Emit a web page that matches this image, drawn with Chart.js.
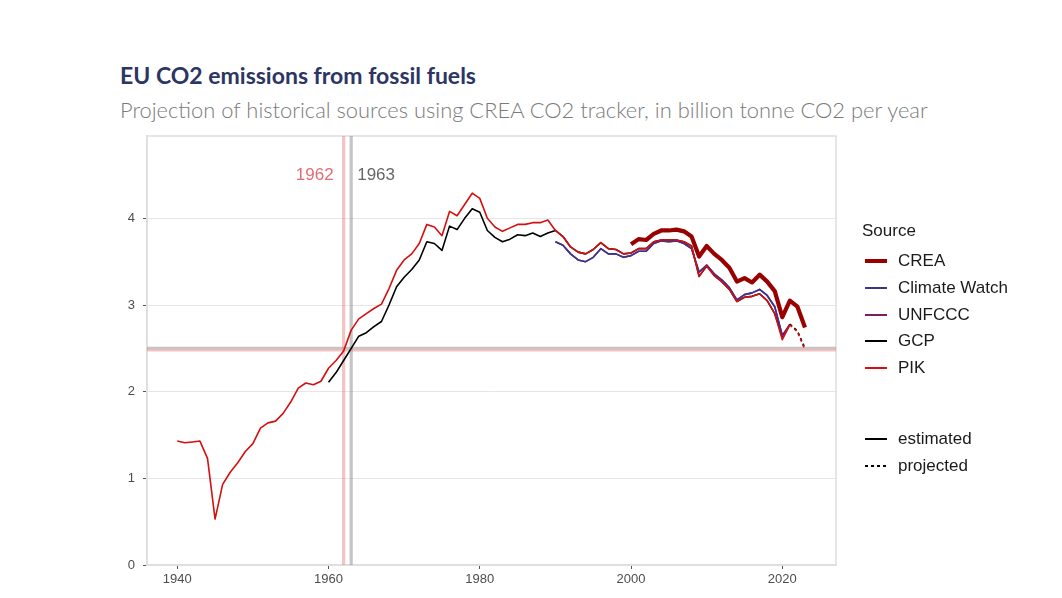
<!DOCTYPE html>
<html><head><meta charset="utf-8">
<script src="https://cdn.jsdelivr.net/npm/chart.js@4.4.0/dist/chart.umd.min.js"></script>
<style>
html,body{margin:0;padding:0;background:#fff;width:1062px;height:598px;overflow:hidden;}
#chartbox{position:absolute;left:0;top:0;width:1062px;height:598px;}
#title{position:absolute;left:120px;top:61px;font-family:Lato,"Open Sans",sans-serif;font-weight:700;font-size:23px;color:#2c3563;white-space:nowrap;}
#subtitle{position:absolute;left:120px;top:96px;font-family:Lato,"Open Sans",sans-serif;font-weight:300;font-size:21.9px;color:#7a7a7a;white-space:nowrap;}
.lg{position:absolute;left:862px;font-family:"Liberation Sans",Arial,sans-serif;font-size:17px;color:#1a1a1a;white-space:nowrap;line-height:20px;}
.item{position:absolute;left:865px;height:20px;font-family:"Liberation Sans",Arial,sans-serif;font-size:17px;color:#1a1a1a;white-space:nowrap;line-height:20px;}
.item .sw{position:absolute;left:0;width:22px;}
.item .tx{position:absolute;left:33px;top:0;}
</style></head>
<body>
<div id="title">EU CO2 emissions from fossil fuels</div>
<div id="subtitle">Projection of historical sources using CREA CO2 tracker, in billion tonne CO2 per year</div>
<div id="chartbox"><canvas id="c" width="1062" height="598"></canvas></div>
<div id="legend"></div>
<script>
// ---------- data ----------
const pikYears = [];
for (let y = 1940; y <= 2023; y++) pikYears.push(y);
const pikValues = [1.43,1.41,1.42,1.43,1.23,0.53,0.93,1.07,1.18,1.31,
  1.40,1.58,1.64,1.66,1.75,1.88,2.04,2.10,2.08,2.12,
  2.27,2.36,2.47,2.71,2.84,2.90,2.96,3.01,3.19,3.40,
  3.52,3.59,3.71,3.93,3.90,3.80,4.08,4.03,4.16,4.29,
  4.23,4.00,3.90,3.85,3.89,3.93,3.93,3.95,3.95,3.98,
  3.86,3.79,3.67,3.61,3.59,3.64,3.72,3.65,3.64,3.59,
  3.60,3.65,3.65,3.73,3.75,3.75,3.75,3.73,3.68,3.33,
  3.45,3.34,3.27,3.18,3.04,3.09,3.10,3.13,3.05,2.90,
  2.60,2.77,2.69,2.48];

const gcpYears = [];
for (let y = 1960; y <= 2023; y++) gcpYears.push(y);
const gcpValues = [2.11,2.22,2.36,2.50,2.64,2.68,2.75,2.81,3.00,3.21,
  3.32,3.41,3.52,3.73,3.71,3.63,3.91,3.87,4.00,4.11,
  4.07,3.86,3.78,3.73,3.76,3.81,3.80,3.83,3.79,3.83,
  3.86,3.79,3.67,3.61,3.59,3.64,3.72,3.65,3.64,3.59,
  3.60,3.65,3.65,3.73,3.75,3.75,3.75,3.73,3.68,3.33,
  3.45,3.34,3.27,3.18,3.04,3.09,3.10,3.13,3.05,2.90,
  2.64,2.78,2.70,2.50];

const cwYears = [];
for (let y = 1990; y <= 2020; y++) cwYears.push(y);
const cwValues = [3.73,3.69,3.59,3.52,3.50,3.55,3.65,3.59,3.59,3.55,
  3.57,3.62,3.62,3.71,3.74,3.73,3.74,3.71,3.65,3.38,
  3.46,3.36,3.29,3.20,3.06,3.12,3.14,3.18,3.11,2.98,
  2.65];

const unfcccYears = [];
for (let y = 1990; y <= 2021; y++) unfcccYears.push(y);
const unfcccValues = [3.73,3.69,3.59,3.52,3.50,3.55,3.65,3.59,3.59,3.55,
  3.57,3.62,3.62,3.71,3.74,3.73,3.74,3.71,3.65,3.38,
  3.46,3.36,3.29,3.20,3.06,3.12,3.14,3.18,3.11,2.98,
  2.65,2.77];

const creaYears = [];
for (let y = 2000; y <= 2023; y++) creaYears.push(y);
const creaValues = [3.70,3.76,3.75,3.82,3.86,3.86,3.87,3.85,3.79,3.56,
  3.68,3.59,3.52,3.43,3.27,3.31,3.26,3.35,3.27,3.16,
  2.86,3.05,2.98,2.74];

const projectedFrom = 2021;
const refYears = [1962, 1963];
const refYearLabels = ['1962', '1963'];
const refLevels = [2.478, 2.504];
const xTicks = [1940, 1960, 1980, 2000, 2020];
const yTicks = [0, 1, 2, 3, 4];

const sourceNames = ['CREA', 'Climate Watch', 'UNFCCC', 'GCP', 'PIK'];
const sourceColors = ['#990000', '#3a3491', '#7d1f5e', '#000000', '#d40f0f'];
const sourceWidths = [4.2, 1.6, 1.6, 1.6, 1.6];
const typeNames = ['estimated', 'projected'];

// ---------- build ----------
function pts(xs, ys){ return xs.map((x,i)=>({x:x, y:ys[i]})); }
const seriesData = [pts(creaYears,creaValues), pts(cwYears,cwValues), pts(unfcccYears,unfcccValues), pts(gcpYears,gcpValues), pts(pikYears,pikValues)];
const drawOrder = [0, 2, 3, 4, 1]; // lower = on top
const datasets = sourceNames.map((n,i)=>({
  label:n, data:seriesData[i], borderColor:sourceColors[i], borderWidth:sourceWidths[i],
  pointRadius:0, tension:0, fill:false, borderJoinStyle:'round', borderCapStyle:'butt',
  order:drawOrder[i],
  segment:{ borderDash: ctx => (i!==0 && ctx.p0.parsed.x >= projectedFrom) ? [3,3] : undefined }
}));

const refPlugin = {
  id:'ref',
  beforeDatasetsDraw(chart){
    const {ctx, chartArea:a, scales:{x, y}} = chart;
    ctx.save();
    ctx.strokeStyle = '#dedede'; ctx.lineWidth = 1.5;
    ctx.strokeRect(a.left, a.top, a.right-a.left, a.bottom-a.top);
    const vcol = ['rgba(236,120,120,0.45)', 'rgba(140,140,140,0.5)'];
    refYears.forEach((yr,i)=>{
      const px = x.getPixelForValue(yr);
      ctx.strokeStyle = vcol[i]; ctx.lineWidth = 3.2;
      ctx.beginPath(); ctx.moveTo(px, a.top); ctx.lineTo(px, a.bottom); ctx.stroke();
      const py = y.getPixelForValue(refLevels[i]);
      ctx.lineWidth = 2.6;
      ctx.beginPath(); ctx.moveTo(a.left, py); ctx.lineTo(a.right, py); ctx.stroke();
    });
    ctx.font = '17px "Liberation Sans", Arial, sans-serif';
    ctx.textBaseline = 'middle';
    const ly = 175.5;
    ctx.fillStyle = '#e36c74'; ctx.textAlign = 'right';
    ctx.fillText(refYearLabels[0], x.getPixelForValue(refYears[0]) - 10, ly);
    ctx.fillStyle = '#666666'; ctx.textAlign = 'left';
    ctx.fillText(refYearLabels[1], x.getPixelForValue(refYears[1]) + 6, ly);
    ctx.restore();
  }
};

new Chart(document.getElementById('c'), {
  type:'line',
  data:{datasets},
  plugins:[refPlugin],
  options:{
    responsive:false, animation:false, events:[],
    layout:{padding:{left:100, top:136, right:226, bottom:0}},
    plugins:{legend:{display:false}, tooltip:{enabled:false}},
    scales:{
      x:{type:'linear', min:1936.0, max:2027.1,
        afterBuildTicks:s=>{ s.ticks = xTicks.map(v=>({value:v})); },
        afterFit:s=>{ s.height = 33; },
        grid:{drawOnChartArea:false, drawTicks:true, tickLength:4, tickColor:'#555', color:'#555'},
        border:{display:true, color:'#dedede', width:1.5},
        ticks:{color:'#4d4d4d', font:{family:'"Liberation Sans", Arial, sans-serif', size:13}, padding:3, maxRotation:0, callback:v=>String(v)}
      },
      y:{type:'linear', min:0, max:4.95,
        afterBuildTicks:s=>{ s.ticks = yTicks.map(v=>({value:v})); },
        afterFit:s=>{ s.width = 47; },
        grid:{drawOnChartArea:true, drawTicks:true, tickLength:4, tickColor:'#555', color:'#e6e6e6', lineWidth:1},
        border:{display:true, color:'#dedede', width:1.5},
        ticks:{color:'#4d4d4d', font:{family:'"Liberation Sans", Arial, sans-serif', size:13}, padding:8, callback:v=>String(v)}
      }
    }
  }
});

// ---------- legend (HTML) ----------
const L = document.getElementById('legend');
const t = document.createElement('div'); t.className='lg'; t.style.top='221px'; t.textContent='Source'; L.appendChild(t);
const rowsY = [261, 288, 315, 341, 368];
sourceNames.forEach((n,i)=>{
  const d = document.createElement('div'); d.className='item'; d.style.top=(rowsY[i]-10)+'px';
  const s = document.createElement('span'); s.className='sw';
  const h = i===0 ? 4 : 2;
  s.style.height = h+'px'; s.style.top = (10 - h/2)+'px'; s.style.background = sourceColors[i];
  const tx = document.createElement('span'); tx.className='tx'; tx.textContent=n;
  d.appendChild(s); d.appendChild(tx); L.appendChild(d);
});
const typeY = [439, 466];
typeNames.forEach((n,i)=>{
  const d = document.createElement('div'); d.className='item'; d.style.top=(typeY[i]-10)+'px';
  const s = document.createElement('span'); s.className='sw';
  s.style.height='2px'; s.style.top='9px';
  s.style.background = i===0 ? '#000' : 'repeating-linear-gradient(90deg,#000 0 3px,transparent 3px 6px)';
  const tx = document.createElement('span'); tx.className='tx'; tx.textContent=n;
  d.appendChild(s); d.appendChild(tx); L.appendChild(d);
});
</script>
</body></html>
